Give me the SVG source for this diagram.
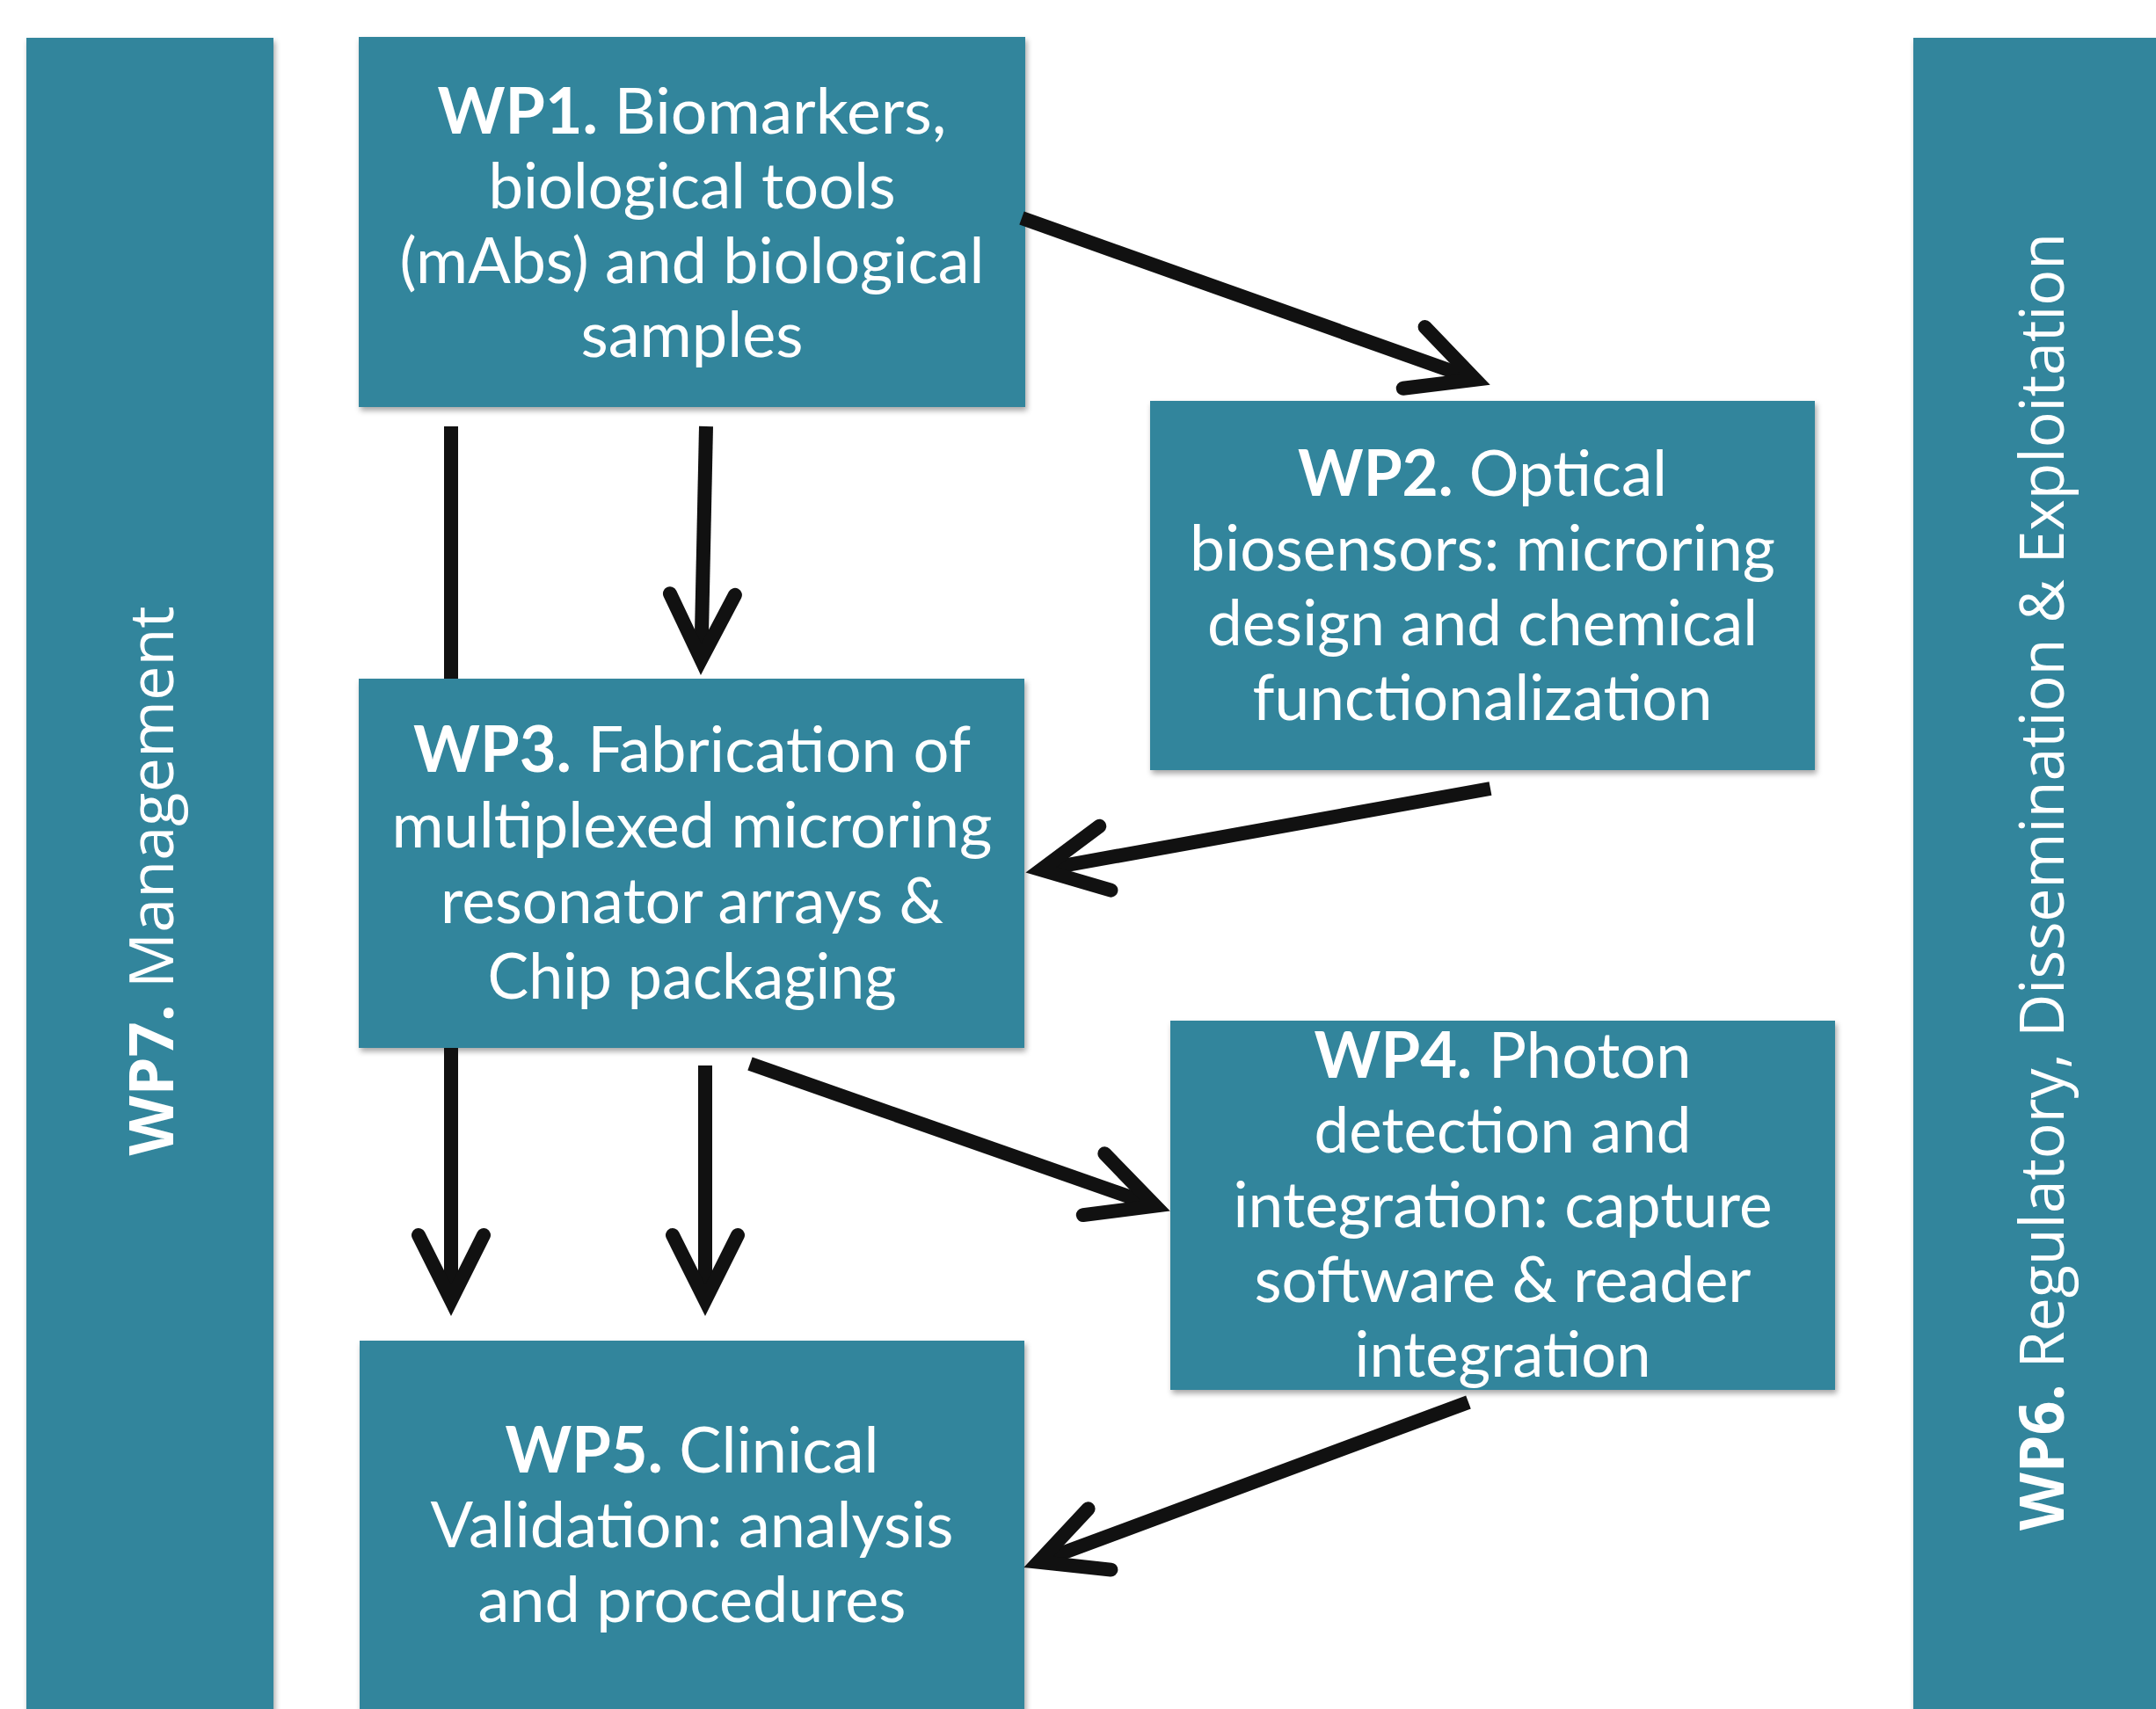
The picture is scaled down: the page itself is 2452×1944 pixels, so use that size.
<svg xmlns="http://www.w3.org/2000/svg" width="2452" height="1944" viewBox="0 0 2452 1944">
  <style>
    .box { fill: #31859C; filter: url(#sh); }
    .t { font-family: Lato, "Liberation Sans", sans-serif; font-size: 72px; fill: #ffffff; text-anchor: middle; }
    .v { font-family: "Open Sans", "Liberation Sans", sans-serif; font-size: 70px; fill: #ffffff; text-anchor: middle; }
    .b { font-weight: bold; }
    .ln { fill: none; stroke: #111111; stroke-width: 16; stroke-linecap: butt; }
  </style>
  <defs>
    <filter id="sh" x="-5%" y="-5%" width="110%" height="115%">
      <feDropShadow dx="2" dy="4" stdDeviation="3" flood-color="#000000" flood-opacity="0.35"/>
    </filter>
    <!-- open chevron head; drawn 1:1 in user units, tip lands 20 units past the line end -->
    <marker id="ah" markerUnits="userSpaceOnUse" orient="auto" refX="-20" refY="0" markerWidth="10" markerHeight="10" overflow="visible">
      <path d="M-92,-37 L-18,0 L-92,37" fill="none" stroke="#111111" stroke-width="16" stroke-linecap="round" stroke-linejoin="miter"/>
    </marker>
  </defs>

  <rect width="2452" height="1944" fill="#ffffff"/>

  <!-- side bars -->
  <g id="wp7">
    <rect class="box" x="30" y="43" width="281" height="1920"/>
    <text class="v" transform="translate(197,1002) rotate(-90)" textLength="625" lengthAdjust="spacingAndGlyphs"><tspan class="b">WP7.</tspan> Management</text>
  </g>
  <g id="wp6">
    <rect class="box" x="2176" y="43" width="300" height="1920"/>
    <text class="v" transform="translate(2347,1003) rotate(-90)" textLength="1476" lengthAdjust="spacingAndGlyphs"><tspan class="b">WP6.</tspan> Regulatory, Dissemination &amp; Exploitation</text>
  </g>

  <!-- work package boxes -->
  <g id="wp1">
    <rect class="box" x="408" y="42" width="758" height="421"/>
    <text class="t" x="787" y="152" textLength="579" lengthAdjust="spacingAndGlyphs"><tspan class="b">WP1.</tspan> Biomarkers,</text>
    <text class="t" x="787" y="237" textLength="463" lengthAdjust="spacingAndGlyphs">biological tools</text>
    <text class="t" x="787" y="322" textLength="665" lengthAdjust="spacingAndGlyphs">(mAbs) and biological</text>
    <text class="t" x="787" y="406" textLength="253" lengthAdjust="spacingAndGlyphs">samples</text>
  </g>
  <g id="wp2">
    <rect class="box" x="1308" y="456" width="756" height="420"/>
    <text class="t" x="1686" y="564" textLength="420" lengthAdjust="spacingAndGlyphs"><tspan class="b">WP2.</tspan> Optical</text>
    <text class="t" x="1686" y="649" textLength="666" lengthAdjust="spacingAndGlyphs">biosensors: microring</text>
    <text class="t" x="1686" y="734" textLength="626" lengthAdjust="spacingAndGlyphs">design and chemical</text>
    <text class="t" x="1686" y="819" textLength="523" lengthAdjust="spacingAndGlyphs">functionalization</text>
  </g>
  <g id="wp3">
    <rect class="box" x="408" y="772" width="757" height="420"/>
    <text class="t" x="787" y="878" textLength="634" lengthAdjust="spacingAndGlyphs"><tspan class="b">WP3.</tspan> Fabrication of</text>
    <text class="t" x="787" y="964" textLength="683" lengthAdjust="spacingAndGlyphs">multiplexed microring</text>
    <text class="t" x="787" y="1050" textLength="572" lengthAdjust="spacingAndGlyphs">resonator arrays &amp;</text>
    <text class="t" x="787" y="1136" textLength="465" lengthAdjust="spacingAndGlyphs">Chip packaging</text>
  </g>
  <g id="wp4">
    <rect class="box" x="1331" y="1161" width="756" height="420"/>
    <text class="t" x="1709" y="1226" textLength="429" lengthAdjust="spacingAndGlyphs"><tspan class="b">WP4.</tspan> Photon</text>
    <text class="t" x="1709" y="1311" textLength="429" lengthAdjust="spacingAndGlyphs">detection and</text>
    <text class="t" x="1709" y="1396" textLength="613" lengthAdjust="spacingAndGlyphs">integration: capture</text>
    <text class="t" x="1709" y="1481" textLength="565" lengthAdjust="spacingAndGlyphs">software &amp; reader</text>
    <text class="t" x="1709" y="1566" textLength="337" lengthAdjust="spacingAndGlyphs">integration</text>
  </g>
  <g id="wp5">
    <rect class="box" x="409" y="1525" width="756" height="440"/>
    <text class="t" x="787" y="1675" textLength="425" lengthAdjust="spacingAndGlyphs"><tspan class="b">WP5.</tspan> Clinical</text>
    <text class="t" x="787" y="1760" textLength="595" lengthAdjust="spacingAndGlyphs">Validation: analysis</text>
    <text class="t" x="787" y="1845" textLength="487" lengthAdjust="spacingAndGlyphs">and procedures</text>
  </g>

  <!-- connectors -->
  <g id="connectors">
    <line class="ln" x1="1162" y1="248" x2="1676" y2="431" marker-end="url(#ah)"/>
    <line class="ln" x1="513" y1="485" x2="513" y2="772"/>
    <line class="ln" x1="803" y1="485" x2="797.4" y2="748" marker-end="url(#ah)"/>
    <line class="ln" x1="1695" y1="897" x2="1186" y2="989" marker-end="url(#ah)"/>
    <line class="ln" x1="513" y1="1192" x2="513" y2="1477" marker-end="url(#ah)"/>
    <line class="ln" x1="802" y1="1212" x2="802" y2="1477" marker-end="url(#ah)"/>
    <line class="ln" x1="853" y1="1210" x2="1312" y2="1371" marker-end="url(#ah)"/>
    <line class="ln" x1="1670" y1="1595" x2="1183" y2="1776" marker-end="url(#ah)"/>
  </g>
</svg>
